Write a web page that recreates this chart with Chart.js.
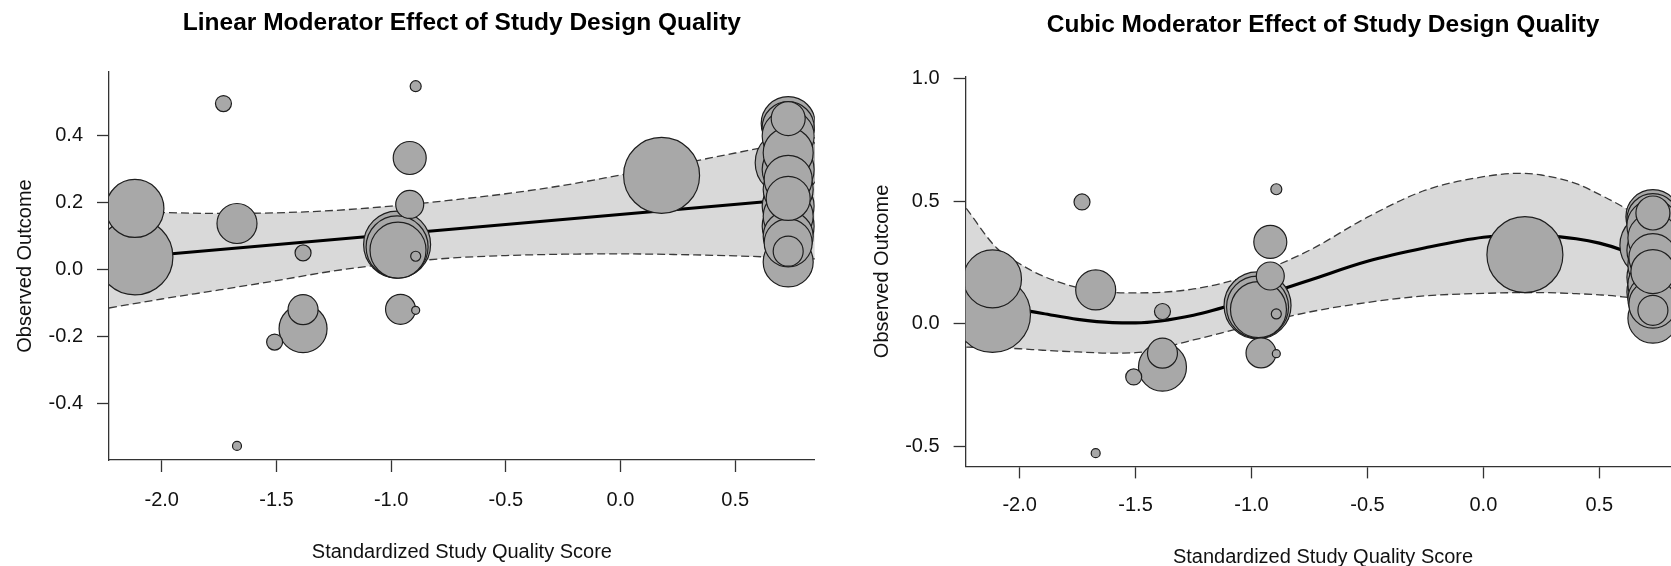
<!DOCTYPE html>
<html>
<head>
<meta charset="utf-8">
<title>Moderator Effect of Study Design Quality</title>
<script src="https://cdn.jsdelivr.net/npm/chart.js@4.4.1/dist/chart.umd.min.js"></script>
<style>
  html, body { margin: 0; padding: 0; background: #fff; overflow: hidden; }
  body { width: 1671px; height: 566px; position: relative; }
  canvas { position: absolute; }
  #linear { left: 0; top: 0; }
  #cubic  { left: 857px; top: 5px; }
</style>
</head>
<body>
<canvas id="cubic" width="863" height="566"></canvas>
<canvas id="linear" width="854" height="566"></canvas>

<script>
// ── Study data (same studies in both panels) ─────────────
const studyX = [
  -2.117, -2.117, 0.179, -0.974, -0.974, -0.970, -1.384, -1.672, -0.919, -1.384,
  -0.959, -0.919, -1.731, -1.384, -1.508, -0.893, -0.893, -1.672, -0.893,
  0.731, 0.731, 0.731, 0.731, 0.731, 0.731, 0.731, 0.731, 0.731,
  0.731, 0.731, 0.731, 0.731, 0.731, 0.731, 0.731, 0.731,
];
const studyY = [
  0.038, 0.183, 0.282, 0.075, 0.068, 0.058, -0.177, 0.138, 0.334, -0.120,
  -0.119, 0.195, 0.497, 0.050, -0.217, 0.549, 0.040, -0.528, -0.122,
  0.437, 0.425, 0.400, 0.350, 0.320, 0.300, 0.270, 0.240, 0.190,
  0.160, 0.130, 0.100, 0.080, 0.023, 0.213, 0.055, 0.452,
];
// point radius ~ study weight
const studyWeight = [
  38, 29, 38, 33.5, 31, 28, 24, 20, 16.5, 15,
  15, 14, 8, 8, 8, 5.5, 5, 4.5, 4,
  27, 26, 26, 25, 33, 26, 24, 25, 26,
  25, 26, 25, 24, 25, 22, 15, 17,
];

const xTicks      = [-2.0, -1.5, -1.0, -0.5, 0.0, 0.5];
const yTicksLin   = [-0.4, -0.2, 0.0, 0.2, 0.4];
const yTicksCubic = [-0.5, 0.0, 0.5, 1.0];

// ── Linear fit + 95% band ────────────────────────────────
const linPredX = [-2.23, 0.731];
const linPred  = [0.031, 0.209];
const linBandX = [-2.23, -2.0, -1.75, -1.5, -1.25, -1.0, -0.75, -0.5, -0.25, 0, 0.25, 0.5, 0.75, 0.85];
const linUpper = [0.176, 0.171, 0.168, 0.170, 0.177, 0.190, 0.207, 0.227, 0.252, 0.283, 0.315, 0.349, 0.382, 0.395];
const linLower = [-0.115, -0.088, -0.061, -0.033, -0.004, 0.018, 0.034, 0.042, 0.046, 0.047, 0.045, 0.041, 0.035, 0.032];

// ── Cubic fit + 95% band ─────────────────────────────────
const cubX     = [-2.23, -2.1, -2.0, -1.9, -1.75, -1.6, -1.5, -1.25, -1.0, -0.75, -0.5, -0.25, 0, 0.15, 0.25, 0.4, 0.5, 0.6, 0.73, 0.85];
const cubPred  = [0.100, 0.075, 0.058, 0.042, 0.018, 0.005, 0.004, 0.035, 0.102, 0.178, 0.255, 0.310, 0.353, 0.362, 0.360, 0.347, 0.329, 0.300, 0.245, 0.180];
const cubUpper = [0.471, 0.310, 0.245, 0.195, 0.148, 0.128, 0.126, 0.142, 0.200, 0.300, 0.435, 0.545, 0.600, 0.614, 0.607, 0.572, 0.528, 0.478, 0.400, 0.310];
const cubLower = [-0.095, -0.098, -0.102, -0.108, -0.115, -0.120, -0.118, -0.066, -0.007, 0.048, 0.087, 0.114, 0.124, 0.127, 0.127, 0.123, 0.118, 0.110, 0.090, 0.050];

// ── helpers ──────────────────────────────────────────────
const FONT = 'Liberation Sans, Arial, Helvetica, sans-serif';
const AXIS = '#333';
const zip = (xs, ys) => xs.map((x, i) => ({ x, y: ys[i] }));

function studyPoints() {
  // biggest first so small studies sit on top
  return studyX.map((x, i) => ({ x, y: studyY[i], r: studyWeight[i] }))
    .sort((a, b) => b.r - a.r);
}

function bandLine(data, extra = {}) {
  return Object.assign({
    type: 'line', data, order: 2, clip: 0,
    borderColor: '#3a3a3a', borderWidth: 1.3, borderDash: [8, 4],
    pointRadius: 0, cubicInterpolationMode: 'monotone', fill: false,
  }, extra);
}

// note: chart.js keeps a ~39px right margin here, so canvases are a bit wider
function makeRegPlot(id, g) {
  const ctx = document.getElementById(id);
  return new Chart(ctx, {
    type: 'bubble',
    data: {
      datasets: [
        { data: studyPoints(), order: 0, clip: 0,
          backgroundColor: '#a8a8a8', borderColor: '#1e1e1e', borderWidth: 1.2 },
        { type: 'line', data: zip(g.predX, g.pred), order: 1, clip: 0,
          borderColor: '#000', borderWidth: 3.2, pointRadius: 0,
          cubicInterpolationMode: 'monotone', fill: false },
        bandLine(zip(g.bandX, g.lower)),
        bandLine(zip(g.bandX, g.upper), { order: 3, fill: '-1', backgroundColor: '#d9d9d9' }),
      ],
    },
    options: {
      responsive: false, animation: false, events: [],
      layout: { padding: { left: 0, right: g.padRight, top: 0, bottom: 0 } },
      plugins: {
        legend: { display: false },
        tooltip: { enabled: false },
        title: {
          display: true, text: g.title, fullSize: false, color: '#000',
          font: { family: FONT, size: 24.5, weight: 'bold' },
          padding: { top: g.titleTop, bottom: g.plotTop - g.titleTop - 29.4 },
        },
      },
      scales: {
        x: {
          type: 'linear', min: g.xMin, max: g.xMax,
          afterBuildTicks: s => { s.ticks = xTicks.map(v => ({ value: v })); },
          afterFit: s => { s.height = 566 - g.plotBottom; },
          grid: { drawOnChartArea: false, tickLength: 12, tickWidth: 1.3, tickColor: AXIS },
          border: { display: true, color: AXIS, width: 1.3 },
          ticks: { color: '#111', padding: g.xTickPad, maxRotation: 0,
                   font: { family: FONT, size: 20 }, callback: v => v.toFixed(1) },
          title: { display: true, text: 'Standardized Study Quality Score', color: '#111',
                   font: { family: FONT, size: 20 }, padding: { top: 0, bottom: g.xTitleBottom } },
        },
        y: {
          type: 'linear', min: g.yMin, max: g.yMax,
          afterBuildTicks: s => { s.ticks = g.yTicks.map(v => ({ value: v })); },
          afterFit: s => { s.width = g.plotLeft; },
          grid: { drawOnChartArea: false, tickLength: 12, tickWidth: 1.3, tickColor: AXIS },
          border: { display: true, color: AXIS, width: 1.3 },
          ticks: { color: '#111', padding: 14,
                   font: { family: FONT, size: 20 }, callback: v => v.toFixed(1) },
          title: { display: true, text: 'Observed Outcome', color: '#111',
                   font: { family: FONT, size: 20 }, padding: { top: 13, bottom: 0 } },
        },
      },
    },
  });
}

// ── Panels ───────────────────────────────────────────────
makeRegPlot('linear', {
  title: 'Linear Moderator Effect of Study Design Quality',
  xMin: -2.230, xMax: 0.847, yMin: -0.570, yMax: 0.5915, yTicks: yTicksLin,
  plotLeft: 109, plotTop: 72, plotBottom: 460, padRight: 39,
  titleTop: 9, xTickPad: 16, xTitleBottom: 2,
  predX: linPredX, pred: linPred, bandX: linBandX, upper: linUpper, lower: linLower,
});

makeRegPlot('cubic', {
  title: 'Cubic Moderator Effect of Study Design Quality',
  xMin: -2.233, xMax: 0.850, yMin: -0.582, yMax: 1.009, yTicks: yTicksCubic,
  plotLeft: 108.6, plotTop: 71.5, plotBottom: 461.4, padRight: 39.5,
  titleTop: 6, xTickPad: 15, xTitleBottom: 2,
  predX: cubX, pred: cubPred, bandX: cubX, upper: cubUpper, lower: cubLower,
});
</script>
</body>
</html>
